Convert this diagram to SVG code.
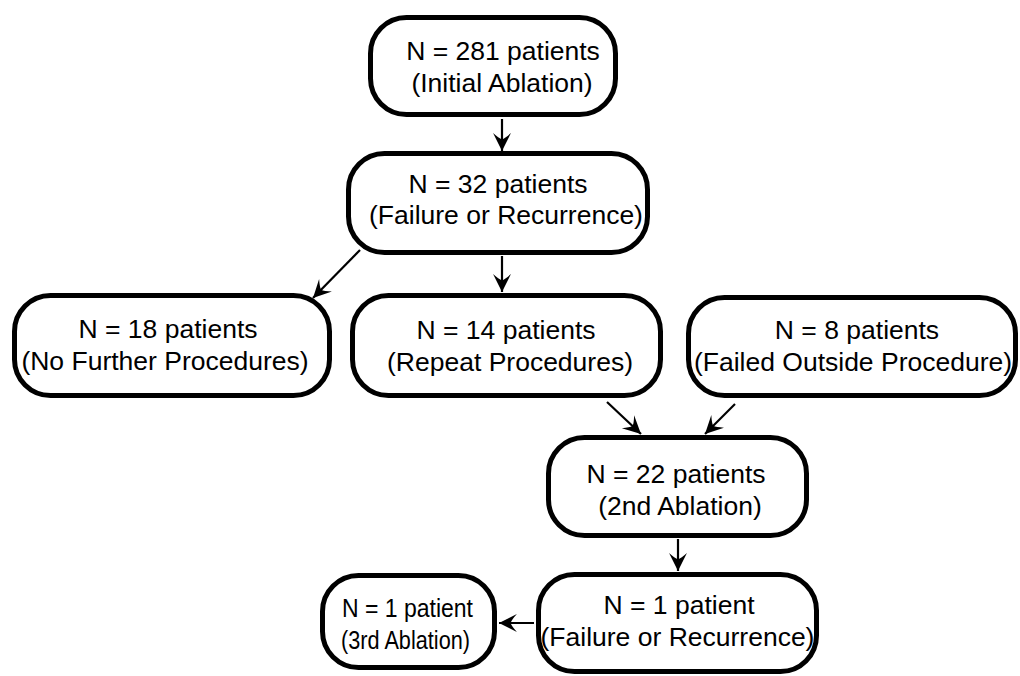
<svg xmlns="http://www.w3.org/2000/svg" width="1020" height="676" viewBox="0 0 1020 676">
<style>
.box{fill:#fff;stroke:#000;stroke-width:5}
.t{font-family:"Liberation Sans",Arial,sans-serif;font-size:26.5px;fill:#000;text-anchor:middle}
.s{font-size:25px}
.c{stroke:#000;stroke-width:2.2;fill:none;marker-end:url(#ah)}
</style>
<defs>
<marker id="ah" markerUnits="userSpaceOnUse" markerWidth="20" markerHeight="20" viewBox="-18 -9 19 18" refX="0" refY="0" orient="auto">
<path d="M0,0 L-17,-8.5 Q-12,-3 -11,0 Q-12,3 -17,8.5 Z" fill="#000"/>
</marker>
</defs>
<rect width="1020" height="676" fill="#fff"/>
<g id="connectors">
<line class="c" x1="502" y1="119" x2="502" y2="151"/>
<line class="c" x1="360" y1="250" x2="313" y2="298"/>
<line class="c" x1="502" y1="256" x2="502" y2="292"/>
<line class="c" x1="607" y1="402" x2="641" y2="434"/>
<line class="c" x1="735" y1="404" x2="705" y2="434"/>
<line class="c" x1="678" y1="539" x2="678" y2="571"/>
<line class="c" x1="534" y1="623" x2="499" y2="623"/>
</g>
<g id="n1">
<rect class="box" x="370.5" y="17.5" width="245" height="97" rx="36"/>
<text class="t" x="503" y="60">N = 281 patients</text>
<text class="t" x="502" y="92">(Initial Ablation)</text>
</g>
<g id="n2">
<rect class="box" x="348.5" y="153.5" width="299" height="99" rx="36"/>
<text class="t" x="498" y="193">N = 32 patients</text>
<text class="t" x="506" y="224">(Failure or Recurrence)</text>
</g>
<g id="n3">
<rect class="box" x="14.5" y="295.5" width="315" height="100" rx="36"/>
<text class="t" x="168" y="338">N = 18 patients</text>
<text class="t" x="165" y="370">(No Further Procedures)</text>
</g>
<g id="n4">
<rect class="box" x="352.5" y="295.5" width="308" height="100" rx="36"/>
<text class="t" x="506" y="339">N = 14 patients</text>
<text class="t" x="510" y="371">(Repeat Procedures)</text>
</g>
<g id="n5">
<rect class="box" x="688.5" y="297.5" width="327" height="98" rx="36"/>
<text class="t" x="857" y="339">N = 8 patients</text>
<text class="t" x="853" y="371">(Failed Outside Procedure)</text>
</g>
<g id="n6">
<rect class="box" x="548.5" y="437.5" width="258" height="98" rx="36"/>
<text class="t" x="676" y="483">N = 22 patients</text>
<text class="t" x="680" y="515">(2nd Ablation)</text>
</g>
<g id="n7">
<rect class="box" x="538.5" y="574.5" width="278" height="97" rx="36"/>
<text class="t" x="679" y="614">N = 1 patient</text>
<text class="t" x="677.5" y="646">(Failure or Recurrence)</text>
</g>
<g id="n8">
<rect class="box" x="322.5" y="575.5" width="172" height="92" rx="36"/>
<text class="t s" x="407.5" y="617" textLength="131" lengthAdjust="spacingAndGlyphs">N = 1 patient</text>
<text class="t s" x="405.5" y="649" textLength="129" lengthAdjust="spacingAndGlyphs">(3rd Ablation)</text>
</g>
</svg>
